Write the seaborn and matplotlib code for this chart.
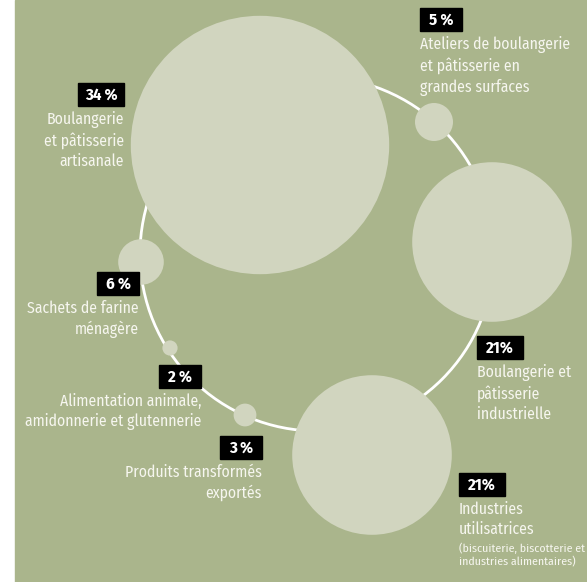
import numpy as np
import pandas as pd
import matplotlib.pyplot as plt
import seaborn as sns
from matplotlib.patches import Circle, Rectangle

# data
labels = ['Boulangerie\net pâtisserie\nartisanale',
          'Ateliers de boulangerie\net pâtisserie en\ngrandes surfaces',
          'Boulangerie et\npâtisserie\nindustrielle',
          'Industries\nutilisatrices',
          'Produits transformés\nexportés',
          'Alimentation animale,\namidonnerie et glutennerie',
          'Sachets de farine\nménagère']
values = [34, 5, 21, 21, 3, 2, 6]
pct_text = ['34\u2009%', '5\u2009%', '21%', '21%', '3\u2009%', '2\u2009%', '6\u2009%']
notes = ['', '', '', '(biscuiterie, biscotterie et\nindustries alimentaires)', '', '', '']

# layout (pixels, y downwards)
bubble_x = [260, 434, 492, 372, 245, 170, 141]
bubble_y = [145, 122, 242, 455, 415, 348, 262]
box_x = [124, 420, 477, 459, 262, 201, 139]
box_y = [83, 8, 336, 473, 436, 365, 272]
box_w = [46, 42, 46, 46, 42, 42, 42]
label_ha = ['right', 'left', 'left', 'left', 'right', 'right', 'right']

bg = '#aab58c'
bubble = '#d1d5bf'
txt = '#f6f6ef'

sns.set_theme(style='white')
plt.rcParams['font.family'] = ['Fira Sans Condensed', 'Roboto Condensed', 'Liberation Sans', 'DejaVu Sans']

W, H = 587, 582
fig = plt.figure(figsize=(W / 100, H / 100), dpi=100, facecolor='white')
ax = fig.add_axes([0, 0, 1, 1])
ax.add_patch(Rectangle((15, 0), W - 15, H, color=bg, zorder=0))

# ring
ax.add_patch(Circle((317, 254), 177, fill=False, ec='white', lw=2, zorder=1))

# bubbles: radius proportional to value (3.8 px per point)
df = pd.DataFrame({'x': bubble_x, 'y': bubble_y, 'v2': np.array(values) ** 2})
k = (2 * 3.8 * 0.72) ** 2
sns.scatterplot(data=df, x='x', y='y', size='v2',
                sizes=(k * df.v2.min(), k * df.v2.max()),
                color=bubble, linewidth=0, legend=False, ax=ax, zorder=2)
ax.set_xlim(0, W)
ax.set_ylim(H, 0)
ax.axis('off')

for i in range(len(values)):
    bx = box_x[i] if label_ha[i] == 'left' else box_x[i] - box_w[i]
    ax.add_patch(Rectangle((bx, box_y[i]), box_w[i], 23, color='black', zorder=3))
    ax.text(bx + box_w[i] / 2, box_y[i] + 12, pct_text[i], color='white',
            fontsize=12, fontweight='bold', ha='center', va='center', zorder=4)
    ax.text(box_x[i], box_y[i] + 28, labels[i], color=txt, fontsize=11.3,
            fontweight='normal', ha=label_ha[i], va='top',
            multialignment=label_ha[i], linespacing=1.34, zorder=4)
    if notes[i]:
        ax.text(box_x[i], box_y[i] + 70, notes[i], color=txt, fontsize=8.5,
                fontweight='normal', ha=label_ha[i], va='top',
                linespacing=1.27, zorder=4)

fig.savefig('out.png', dpi=100, facecolor='white')
